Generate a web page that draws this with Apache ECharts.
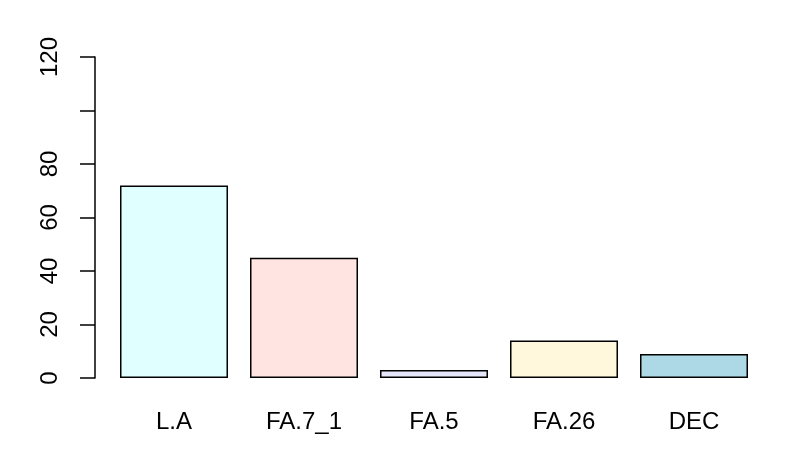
<!DOCTYPE html>
<html>
<head>
<meta charset="utf-8">
<script src="https://cdn.jsdelivr.net/npm/echarts@6/dist/echarts.min.js"></script>
<style>
  html, body { margin: 0; padding: 0; background: #fff; }
  #chart { width: 789px; height: 473px; }
</style>
</head>
<body>
<div id="chart"></div>
<script>
const categories = ["L.A", "FA.7_1", "FA.5", "FA.26", "DEC"];
const values = [72, 45, 3, 14, 9];
const barColors = ["#E0FFFF", "#FFE4E1", "#E6E6FA", "#FFF8DC", "#ADD8E6"];
const yTicks = [0, 20, 40, 60, 80, 100, 120];
// R drops the "100" label because it would overlap its neighbours
const yTickLabels = ["0", "20", "40", "60", "80", "", "120"];

const font = "'Liberation Sans', Arial, sans-serif";
const chart = echarts.init(document.getElementById("chart"));

chart.setOption({
  animation: false,
  textStyle: { fontFamily: font, fontSize: 24 },
  grid: { left: 109, right: 30, top: 57, bottom: 95 },
  xAxis: {
    type: "category",
    data: categories,
    axisLine: { show: false },
    axisTick: { show: false },
    axisLabel: { color: "#000", fontSize: 24, fontFamily: font, margin: 32 },
  },
  yAxis: {
    type: "value",
    min: yTicks[0],
    max: yTicks[yTicks.length - 1],
    interval: 20,
    offset: 14,
    splitLine: { show: false },
    axisLine: { show: true, lineStyle: { color: "#000", width: 1.5 } },
    axisTick: { show: true, length: 15, lineStyle: { color: "#000", width: 1.5 } },
    axisLabel: {
      color: "#000",
      fontSize: 24,
      fontFamily: font,
      rotate: 90,
      margin: 33,
      formatter: (v) => yTickLabels[yTicks.indexOf(v)] ?? "",
    },
  },
  series: [
    {
      type: "bar",
      barWidth: 108,
      data: values.map((v, i) => ({
        value: v,
        itemStyle: { color: barColors[i] },
      })),
      itemStyle: { borderColor: "#000", borderWidth: 1.5 },
    },
  ],
});
</script>
</body>
</html>
